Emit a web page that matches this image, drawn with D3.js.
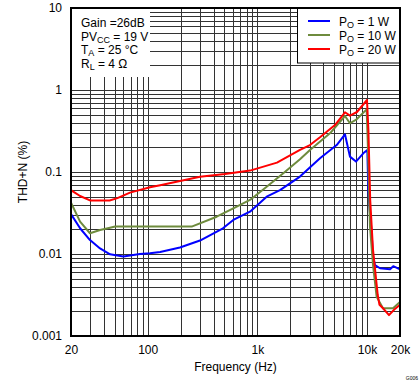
<!DOCTYPE html>
<html><head><meta charset="utf-8">
<script src="https://cdn.jsdelivr.net/npm/d3@7"></script>
<style>
html,body{margin:0;padding:0;background:#fff;}
text{font-family:"Liberation Sans",Arial,sans-serif;fill:#000;}
</style></head>
<body><svg id="chart" width="419" height="382"></svg>
<script>
// ---- data ----
const xTickValues = [20, 100, 1000, 10000, 20000];
const xTickLabels = ["20", "100", "1k", "10k", "20k"];
const yTickValues = [0.001, 0.01, 0.1, 1, 10];
const yTickLabels = ["0.001", "0.01", "0.1", "1", "10"];

const freq1W = [20, 24.2, 29.8, 36.8, 45.4, 60, 69, 85, 105, 130, 197, 300, 486, 604, 857, 1217, 1610, 2449, 3728, 5295, 6298, 6994, 7937, 9250, 10070, 10280, 10650, 11040, 11300, 11830, 13150, 16220, 17360, 20000];
const thd1W  = [0.0307, 0.0206, 0.0148, 0.0117, 0.0099, 0.0093, 0.0096, 0.0100, 0.0102, 0.0106, 0.0120, 0.0146, 0.0206, 0.026, 0.0328, 0.050, 0.060, 0.088, 0.147, 0.213, 0.288, 0.154, 0.134, 0.169, 0.186, 0.060, 0.0316, 0.018, 0.0097, 0.0073, 0.0067, 0.0065, 0.0071, 0.0065];

const freq10W = [20, 24.2, 29.8, 36.8, 45.4, 50.6, 100, 252, 426, 604, 857, 1217, 1726, 2449, 3021, 4598, 6298, 6994, 8052, 9930, 10200, 10650, 11390, 12250, 14000, 17260, 20000];
const thd10W  = [0.0422, 0.0248, 0.0179, 0.0196, 0.0209, 0.0216, 0.0216, 0.0216, 0.0285, 0.036, 0.0456, 0.066, 0.0964, 0.143, 0.186, 0.296, 0.482, 0.393, 0.439, 0.581, 0.2, 0.0216, 0.0070, 0.0030, 0.00218, 0.00218, 0.0026];

const freq20W = [20, 24.2, 29.8, 45, 53, 69, 105, 130, 300, 507, 858, 1511, 2449, 3021, 3728, 5106, 6298, 6994, 8105, 10000, 10300, 10700, 11350, 12530, 13000, 14000, 15880, 17990, 20000];
const thd20W  = [0.060, 0.051, 0.045, 0.045, 0.048, 0.056, 0.065, 0.069, 0.0877, 0.0946, 0.104, 0.130, 0.186, 0.213, 0.265, 0.374, 0.535, 0.486, 0.539, 0.755, 0.325, 0.0456, 0.0112, 0.00316, 0.0024, 0.00218, 0.0018, 0.00214, 0.0024];

const seriesNames = ["1 W", "10 W", "20 W"];
const seriesColors = ["#0000FF", "#6E8B3D", "#FF0000"];

// ---- chart ----
const svg = d3.select("#chart");
const L = 71, R = 400, T = 8, B = 336;
const x = d3.scaleLog().domain([20, 20000]).range([L, R]);
const y = d3.scaleLog().domain([0.001, 10]).range([B, T]);

// grid values
const xGrid = [];
for (let d = 10; d <= 10000; d *= 10) for (let m = 1; m <= 9; m++) { const v = d * m; if (v >= 20 && v <= 20000) xGrid.push(v); }
const yGrid = [];
for (let d = 0.001; d < 10; d *= 10) for (let m = 1; m <= 9; m++) { const v = +(d * m).toPrecision(3); if (v > 0.001 && v < 10) yGrid.push(v); }

const g = svg.append("g").attr("shape-rendering", "crispEdges");
g.selectAll("line.vx").data(xGrid).join("line")
  .attr("x1", d => Math.round(x(d)) + 0.5).attr("x2", d => Math.round(x(d)) + 0.5)
  .attr("y1", T).attr("y2", B).attr("stroke", "#333").attr("stroke-width", 1);
g.selectAll("line.hy").data(yGrid).join("line")
  .attr("y1", d => Math.round(y(d)) + 0.5).attr("y2", d => Math.round(y(d)) + 0.5)
  .attr("x1", L).attr("x2", R).attr("stroke", "#333").attr("stroke-width", 1);

// white box behind condition text
svg.append("rect").attr("x", L + 1).attr("y", T + 1).attr("width", 150 - L - 1).attr("height", 77 - T - 1).attr("fill", "#fff");

// curves
const series = [
  {f: freq1W, v: thd1W},
  {f: freq10W, v: thd10W},
  {f: freq20W, v: thd20W}
];
svg.append("clipPath").attr("id", "clip").append("rect").attr("x", L).attr("y", T).attr("width", R - L).attr("height", B - T);
const line = d3.line().x(d => x(d[0])).y(d => y(d[1]));
series.forEach((s, i) => {
  svg.append("path")
    .attr("d", line(d3.zip(s.f, s.v)))
    .attr("fill", "none").attr("stroke", seriesColors[i]).attr("stroke-width", 2)
    .attr("stroke-linejoin", "round").attr("clip-path", "url(#clip)");
});

// axes labels
const xAxis = d3.axisBottom(x).tickValues(xTickValues).tickFormat((d, i) => xTickLabels[i]).tickSize(0).tickPadding(9);
const xa = svg.append("g").attr("transform", `translate(0,${B})`).call(xAxis);
xa.select(".domain").remove();
xa.selectAll("text").attr("font-size", 12).attr("font-family", "Liberation Sans, Arial, sans-serif");

const yAxis = d3.axisLeft(y).tickValues(yTickValues).tickFormat((d, i) => yTickLabels[i]).tickSize(0).tickPadding(9);
const ya = svg.append("g").attr("transform", `translate(${L},0)`).call(yAxis);
ya.select(".domain").remove();
ya.selectAll("text").attr("font-size", 12).attr("font-family", "Liberation Sans, Arial, sans-serif");

svg.append("text").attr("x", (L + R) / 2).attr("y", 371).attr("text-anchor", "middle")
  .attr("font-size", 12).text("Frequency (Hz)");
svg.append("text").attr("transform", `translate(27,${(T + B) / 2}) rotate(-90)`).attr("text-anchor", "middle")
  .attr("font-size", 12).text("THD+N (%)");
svg.append("text").attr("x", 418).attr("y", 380).attr("text-anchor", "end").attr("font-size", 5).text("G006");

// conditions text
const cond = [
  [["Gain =26dB", 0]],
  [["PV", 0], ["CC", 1], [" = 19 V", 0]],
  [["T", 0], ["A", 1], [" = 25 °C", 0]],
  [["R", 0], ["L", 1], [" = 4 Ω", 0]]
];
cond.forEach((parts, i) => {
  const t = svg.append("text").attr("x", 81).attr("y", 27 + i * 13.7).attr("font-size", 12);
  let shifted = false;
  parts.forEach(p => {
    const sp = t.append("tspan").attr("font-size", p[1] ? 9 : 12).text(p[0]);
    if (p[1] && !shifted) { sp.attr("dy", 2); shifted = true; }
    else if (!p[1] && shifted) { sp.attr("dy", -2); shifted = false; }
  });
});

// legend
svg.append("rect").attr("x", 297.5).attr("y", T).attr("width", R - 297.5).attr("height", 63 - T)
  .attr("fill", "#fff").attr("stroke", "#000").attr("stroke-width", 1);
// plot border
svg.append("rect").attr("x", L).attr("y", T).attr("width", R - L).attr("height", B - T)
  .attr("fill", "none").attr("stroke", "#000").attr("stroke-width", 2).attr("shape-rendering", "crispEdges");
seriesNames.forEach((n, i) => {
  const yy = 21 + i * 14;
  svg.append("line").attr("x1", 308).attr("x2", 330).attr("y1", yy).attr("y2", yy)
    .attr("stroke", seriesColors[i]).attr("stroke-width", 2);
  const t = svg.append("text").attr("x", 339).attr("y", yy + 5).attr("font-size", 12);
  t.append("tspan").text("P");
  t.append("tspan").attr("font-size", 9).attr("dy", 2).text("O");
  t.append("tspan").attr("dy", -2).text(" = " + n);
});
</script></body></html>
